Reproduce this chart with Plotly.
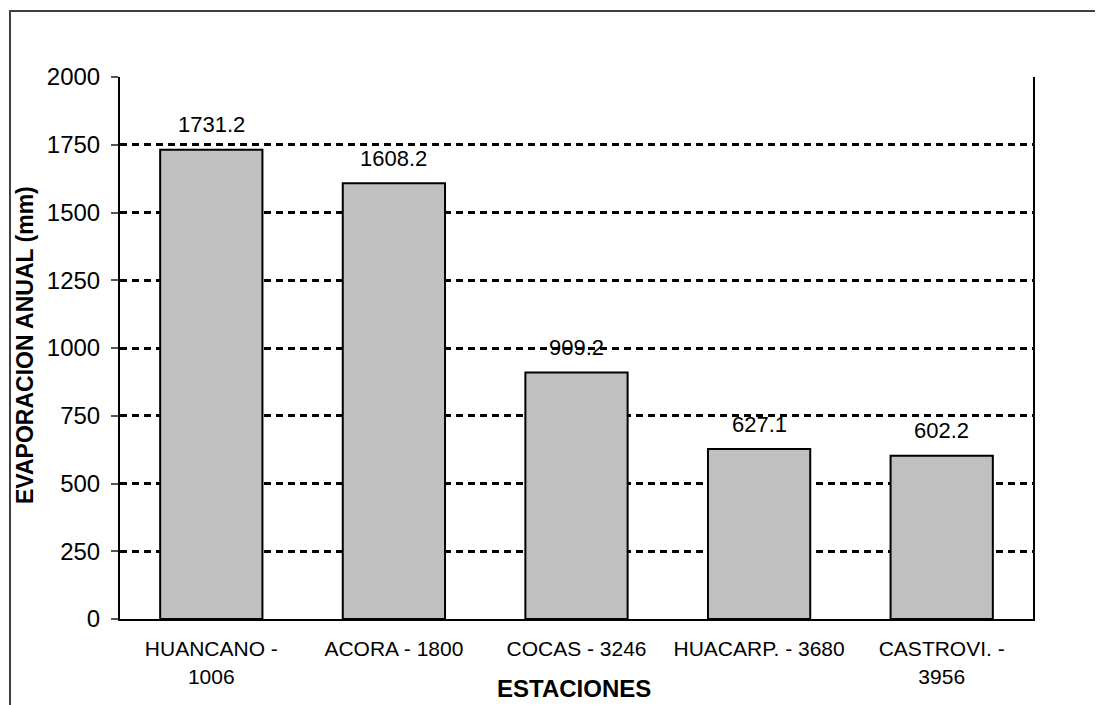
import plotly.graph_objects as go

categories = ["HUANCANO -<br>1006", "ACORA - 1800", "COCAS - 3246", "HUACARP. - 3680", "CASTROVI. -<br>3956"]
values = [1731.2, 1608.2, 909.2, 627.1, 602.2]
y_ticks = [0, 250, 500, 750, 1000, 1250, 1500, 1750, 2000]

FONT = "Liberation Sans, Arial, sans-serif"

W, H = 1103, 705
L, R, T, B = 112, 78, 69, 94
pw, ph = W - L - R, H - T - B

fig = go.Figure()
fig.add_trace(go.Bar(
    x=categories, y=values,
    marker=dict(color="#C0C0C0", line=dict(color="black", width=2)),
    hoverinfo="x+y",
))

for c, v in zip(categories, values):
    fig.add_annotation(x=c, y=v, text=f"{v:.1f}", showarrow=False,
                       yanchor="middle", yshift=25,
                       font=dict(family=FONT, size=22, color="black"))

# axis titles
fig.add_annotation(xref="paper", yref="paper", x=(17 - L) / pw, y=(H - B - 337) / ph,
                   text="<b>EVAPORACION ANUAL (mm)</b>", textangle=-90, showarrow=False,
                   xanchor="center", yanchor="middle",
                   font=dict(family=FONT, size=23, color="black"))
fig.add_annotation(xref="paper", yref="paper", x=(566 - L) / pw, y=(H - B - 680) / ph,
                   text="<b>ESTACIONES</b>", showarrow=False,
                   xanchor="center", yanchor="middle",
                   font=dict(family=FONT, size=24, color="black"))

# outer chart border
fig.add_shape(type="rect", xref="paper", yref="paper",
              x0=(2 - L) / pw, x1=(1130 - L) / pw,
              y0=(H - B - 730) / ph, y1=(H - B - 3) / ph,
              line=dict(color="#404040", width=2), fillcolor="rgba(0,0,0,0)", layer="below")

fig.update_layout(
    width=W, height=H,
    margin=dict(l=L, r=R, t=T, b=B),
    paper_bgcolor="white", plot_bgcolor="white",
    bargap=0.44,
    showlegend=False,
    font=dict(family=FONT, color="black"),
    xaxis=dict(showline=True, linecolor="black", linewidth=2, ticks="",
               showgrid=False, tickfont=dict(size=21, color="black"),
               ticklabelstandoff=10),
    yaxis=dict(range=[0, 2000], tickvals=y_ticks, showline=True, linecolor="black",
               linewidth=2, mirror=True, ticks="outside", ticklen=7, tickcolor="#555555",
               tickwidth=1.5,
               showgrid=True, gridcolor="black", gridwidth=2.5, griddash="7px,5px",
               zeroline=False, tickfont=dict(size=24, color="black"),
               ticklabelstandoff=6),
)

fig.write_html("out.html")
